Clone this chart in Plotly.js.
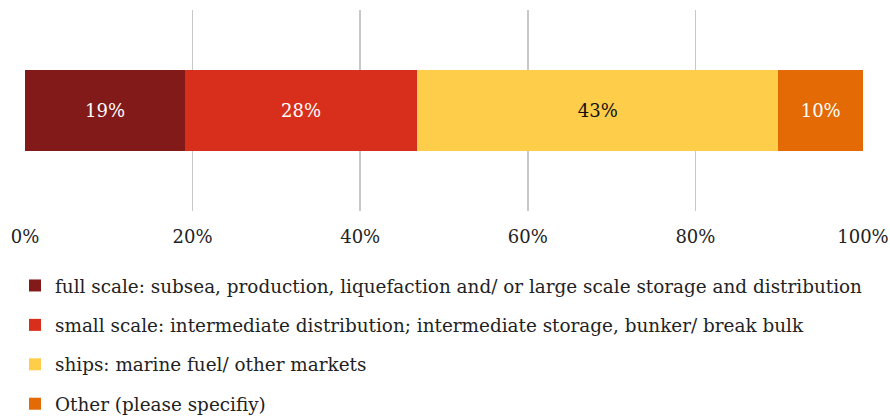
<!DOCTYPE html>
<html>
<head>
<meta charset="utf-8">
<script src="https://cdn.plot.ly/plotly-3.0.1.min.js"></script>
<style>html,body{margin:0;padding:0;background:#fff;}#chart{width:890px;height:417px;}</style>
</head>
<body>
<div id="chart"></div>
<script>
const categories = [''];
const seriesNames = [
  'full scale: subsea, production, liquefaction and/ or large scale storage and distribution',
  'small scale: intermediate distribution; intermediate storage, bunker/ break bulk',
  'ships: marine fuel/ other markets',
  'Other (please specifiy)'
];
const fullScale = [19.1];
const smallScale = [27.7];
const ships = [43.1];
const other = [10.1];
const tickVals = [0, 20, 40, 60, 80, 100];
const tickText = ['0%', '20%', '40%', '60%', '80%', '100%'];

const colors = ['#821A1A', '#D82F1D', '#FECD4A', '#E36A05'];
const textColors = ['#FFFFFF', '#FFFFFF', '#111111', '#FFFFFF'];
const seriesValues = [fullScale, smallScale, ships, other];
const FONT = '"DejaVu Serif", Georgia, serif';

const traces = seriesValues.map((vals, i) => ({
  type: 'bar',
  orientation: 'h',
  name: seriesNames[i],
  y: categories,
  x: vals,
  width: 0.4,
  marker: {color: colors[i], line: {width: 0}},
  texttemplate: '%{x:.0f}%',
  textposition: 'inside',
  insidetextanchor: 'middle',
  textfont: {family: FONT, size: 18, color: textColors[i]},
  legendgroup: 'g' + i,
  hoverinfo: 'skip'
}));

const layout = {
  width: 890,
  height: 417,
  margin: {l: 25, r: 27, t: 10, b: 206},
  barmode: 'stack',
  paper_bgcolor: '#ffffff',
  plot_bgcolor: '#ffffff',
  font: {family: FONT, size: 18.4, color: '#222222'},
  xaxis: {
    range: [0, 100],
    tickvals: tickVals,
    ticktext: tickText,
    showgrid: true,
    gridcolor: '#C8C8C8',
    gridwidth: 1.5,
    zeroline: false,
    showline: false,
    ticks: '',
    ticklabelstandoff: 13,
    tickfont: {family: FONT, size: 18, color: '#222222'},
    fixedrange: true
  },
  yaxis: {
    range: [-0.5, 0.5],
    showgrid: false,
    zeroline: false,
    showticklabels: false,
    ticks: '',
    fixedrange: true
  },
  showlegend: true,
  legend: {
    orientation: 'v',
    xref: 'paper',
    yref: 'container',
    x: -10 / 838,
    xanchor: 'left',
    y: 1 - 267 / 417,
    yanchor: 'top',
    traceorder: 'grouped',
    tracegroupgap: 12.5,
    font: {family: FONT, size: 18.4, color: '#222222'},
    bgcolor: 'rgba(0,0,0,0)'
  }
};

Plotly.newPlot('chart', traces, layout, {displayModeBar: false, staticPlot: true});
</script>
</body>
</html>
